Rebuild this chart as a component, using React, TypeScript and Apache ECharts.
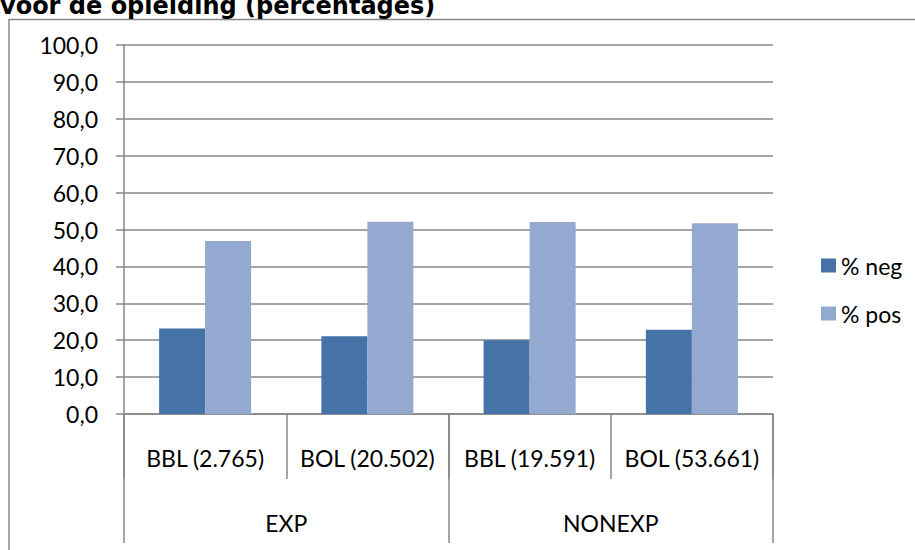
import React, { useEffect, useRef } from "react";
import * as echarts from "echarts";

const titleText = "voor de opleiding (percentages)";
const categories = ["BBL (2.765)", "BOL (20.502)", "BBL (19.591)", "BOL (53.661)"];
const groups = ["EXP", "NONEXP"];
const seriesNames = ["% neg", "% pos"];
const negValues = [23.2, 21.1, 20.0, 22.8];
const posValues = [46.9, 52.1, 52.0, 51.7];

const GRAY = "#878787";
const FONT = "Lato";
const FS = 23;

export default function App() {
  const ref = useRef<HTMLDivElement>(null);
  useEffect(() => {
    if (!ref.current) return;
    const chart = echarts.init(ref.current, undefined, { renderer: "svg" });
    chart.setOption({
      animation: false,
      backgroundColor: "#ffffff",
      graphic: [
        {
          type: "rect",
          shape: { x: 9, y: 19.5, width: 1000, height: 1000 },
          style: { fill: "none", stroke: GRAY, lineWidth: 1.5 },
          z: -1,
        },
        {
          type: "text",
          x: 0,
          y: 5.5,
          style: {
            text: titleText,
            fontFamily: "DejaVu Sans",
            fontWeight: "bold",
            fontSize: 24,
            fill: "#000",
            verticalAlign: "middle",
            align: "left",
          },
        },
      ],
      legend: {
        orient: "vertical",
        left: 816,
        top: 249,
        itemWidth: 15,
        itemHeight: 14,
        itemGap: 25,
        icon: "rect",
        textStyle: { fontFamily: FONT, fontSize: FS, color: "#000" },
        data: seriesNames,
      },
      grid: { left: 124, right: 142, top: 45, bottom: 136 },
      xAxis: [
        {
          type: "category",
          data: categories,
          position: "bottom",
          axisLine: { show: true, lineStyle: { color: GRAY, width: 1.5 } },
          axisTick: { show: true, interval: 0, length: 65, lineStyle: { color: GRAY, width: 1.5 } },
          axisLabel: { interval: 0, margin: 32, fontFamily: FONT, fontSize: FS, color: "#000" },
        },
        {
          type: "category",
          data: groups,
          position: "bottom",
          axisLine: { show: false },
          axisTick: { show: true, interval: 0, length: 129, lineStyle: { color: GRAY, width: 1.5 } },
          axisLabel: { interval: 0, margin: 97, fontFamily: FONT, fontSize: FS, color: "#000" },
        },
      ],
      yAxis: {
        type: "value",
        min: 0,
        max: 100,
        interval: 10,
        axisLine: { show: true, lineStyle: { color: GRAY, width: 1.5 } },
        axisTick: { show: true, length: 8, lineStyle: { color: GRAY, width: 1.5 } },
        splitLine: { show: true, lineStyle: { color: GRAY, width: 1.5 } },
        axisLabel: {
          margin: 26,
          fontFamily: FONT,
          fontSize: FS,
          color: "#000",
          formatter: (v: number) => v.toFixed(1).replace(".", ","),
        },
      },
      series: [
        {
          name: seriesNames[0],
          type: "bar",
          xAxisIndex: 0,
          data: negValues,
          barWidth: 46,
          barGap: "0%",
          itemStyle: { color: "#4572A7" },
        },
        {
          name: seriesNames[1],
          type: "bar",
          xAxisIndex: 0,
          data: posValues,
          barWidth: 46,
          barGap: "0%",
          itemStyle: { color: "#93A9CF" },
        },
      ],
    });
    return () => chart.dispose();
  }, []);
  return (
    <div
      ref={ref}
      style={{ position: "absolute", left: 0, top: 0, width: 915, height: 550 }}
    />
  );
}
